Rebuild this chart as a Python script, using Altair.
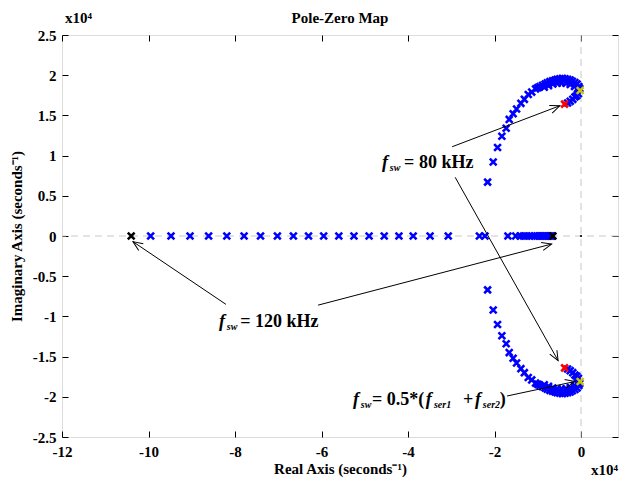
import math
import altair as alt
import pandas as pd

# ---------------- data (real / imaginary parts in units of 1e4 s^-1) ----------------
real_blue_x = [-9.95, -9.48, -9.04, -8.61, -8.19, -7.79, -7.41, -7.02, -6.65, -6.30,
               -5.95, -5.60, -5.25, -4.90, -4.55, -4.21, -3.88, -3.49, -3.07, -2.35,
               -2.22, -1.69, -1.51, -1.41, -1.33, -1.26, -1.19, -1.13, -1.07, -1.02,
               -0.97, -0.92, -0.88, -0.84, -0.80, -0.76, -0.73, -0.70, -0.67]
real_black_x = [-10.40, -0.65]

loop_x = [-2.16, -2.03, -1.93, -1.83, -1.73, -1.66, -1.57, -1.49, -1.39, -1.31,
          -1.22, -1.14, -1.05, -1.00, -0.95, -0.89, -0.83, -0.78, -0.72, -0.66,
          -0.60, -0.55, -0.49, -0.43, -0.37, -0.31, -0.25, -0.20, -0.14, -0.09,
          -0.05, -0.03, -0.06, -0.10, -0.14, -0.19, -0.25, -0.31,
          -0.85, -0.75, -0.65, -0.55, -0.45, -0.35, -0.25, -0.15, -0.08]
loop_y = [0.67, 0.92, 1.10, 1.24, 1.34, 1.45, 1.52, 1.58, 1.65, 1.70,
          1.76, 1.79, 1.83, 1.845, 1.86, 1.875, 1.89, 1.905, 1.92, 1.93,
          1.94, 1.95, 1.955, 1.96, 1.955, 1.95, 1.94, 1.925, 1.91, 1.89,
          1.86, 1.835, 1.77, 1.745, 1.73, 1.70, 1.675, 1.655,
          1.85, 1.87, 1.89, 1.90, 1.905, 1.90, 1.885, 1.86, 1.83]

red_pole = (-0.38, 1.64)      # f_sw = 80 kHz
yellow_pole = (-0.02, 1.81)   # f_sw = 0.5*(fser1+fser2)
zero_origin = (0.0, 0.0)

# arrows: tail -> tip
arrow_x1 = [-2.98, -2.91, -8.21, -6.08, -1.71]
arrow_y1 = [1.11, 0.73, -0.85, -0.86, -1.99]
arrow_x2 = [-0.49, -0.53, -10.36, -0.68, -0.14]
arrow_y2 = [1.62, -1.55, -0.07, -0.10, -1.81]

# annotation text pieces
main_txt = ["= 80 kHz", "= 120 kHz", "= 0.5*(", "+", ")"]
main_x = [-4.09, -7.88, -4.83, -2.73, -1.88]
main_y = [0.846, -1.132, -2.102, -2.102, -2.102]
f_x = [-4.60, -8.37, -5.27, -3.59, -2.45]
f_y = [0.846, -1.132, -2.102, -2.102, -2.102]
sub_txt = ["sw", "sw", "sw", "ser1", "ser2"]
sub_x = [-4.42, -8.19, -5.09, -3.40, -2.27]
sub_y = [0.806, -1.172, -2.142, -2.142, -2.142]

# ---------------- layout ----------------
W, H = 556, 402
XDOM = [-12, 0.855]
YDOM = [-2.5, 2.5]
PX = W / (XDOM[1] - XDOM[0])
PY = H / (YDOM[1] - YDOM[0])
FONT = "Liberation Serif"

xs = alt.Scale(domain=XDOM, nice=False, zero=False)
ys = alt.Scale(domain=YDOM, nice=False, zero=False)

common_axis = dict(grid=False, domain=False, ticks=True, tickSize=6, offset=-6,
                   tickColor="black", tickWidth=1, labelFlush=False)

x_bottom = alt.Axis(values=list(range(-12, 1, 2)), labelExpr="'' + datum.value",
                    title="Real Axis (seconds⁻¹)", labelFont=FONT, labelFontWeight="bold",
                    labelFontSize=15, labelColor="black", labelPadding=7,
                    titleFont=FONT, titleFontWeight="bold", titleFontSize=15,
                    titleColor="black", titlePadding=2, **common_axis)
y_left = alt.Axis(values=[-2.5, -2, -1.5, -1, -0.5, 0, 0.5, 1, 1.5, 2, 2.5],
                  labelExpr="'' + datum.value", title="Imaginary Axis (seconds⁻¹)",
                  labelFont=FONT, labelFontWeight="bold", labelFontSize=15,
                  labelColor="black", labelPadding=6,
                  titleFont=FONT, titleFontWeight="bold", titleFontSize=15,
                  titleColor="black", titlePadding=8, **common_axis)
x_top = alt.Axis(orient="top", values=list(range(-12, 1, 2)), labels=False, title=None,
                 **common_axis)
y_right = alt.Axis(orient="right", values=[-2.5, -2, -1.5, -1, -0.5, 0, 0.5, 1, 1.5, 2, 2.5],
                   labels=False, title=None, **common_axis)

XPATH = "M-1,-1L1,1M-1,1L1,-1"
HEAD = "M-1,-0.42L0,0L-1,0.42"

# ---------------- tables ----------------
blue = pd.DataFrame({
    "x": real_blue_x + loop_x + loop_x,
    "y": [0.0] * len(real_blue_x) + loop_y + [-v for v in loop_y],
})
special = pd.DataFrame({
    "x": real_black_x + [red_pole[0], red_pole[0], yellow_pole[0], yellow_pole[0]],
    "y": [0.0, 0.0, red_pole[1], -red_pole[1], yellow_pole[1], -yellow_pole[1]],
    "c": ["#000000", "#000000", "#ff0000", "#ff0000", "#c8c800", "#c8c800"],
})
origin = pd.DataFrame({"x": [zero_origin[0]], "y": [zero_origin[1]]})
arrows = pd.DataFrame({"x1": arrow_x1, "y1": arrow_y1, "x2": arrow_x2, "y2": arrow_y2})
arrows["ang"] = [
    math.degrees(math.atan2(-(b2 - b1) * PY, (a2 - a1) * PX)) % 360
    for a1, b1, a2, b2 in zip(arrow_x1, arrow_y1, arrow_x2, arrow_y2)
]
main_df = pd.DataFrame({"x": main_x, "y": main_y, "t": main_txt})
f_df = pd.DataFrame({"x": f_x, "y": f_y, "t": ["f"] * len(f_x)})
sub_df = pd.DataFrame({"x": sub_x, "y": sub_y, "t": sub_txt})

# ---------------- layers ----------------
vgrid = alt.Chart(pd.DataFrame({"v": [0]})).mark_rule(
    color="#c8c8c8", strokeDash=[7, 5], strokeWidth=1
).encode(x=alt.X("v:Q", scale=xs, axis=x_top))
hgrid = alt.Chart(pd.DataFrame({"v": [0]})).mark_rule(
    color="#c8c8c8", strokeDash=[7, 5], strokeWidth=1
).encode(y=alt.Y("v:Q", scale=ys, axis=y_right))

pts_blue = alt.Chart(blue).mark_point(
    shape=XPATH, size=46, filled=False, strokeWidth=2.6, color="#0000ff", opacity=1
).encode(x=alt.X("x:Q", scale=xs, axis=x_bottom), y=alt.Y("y:Q", scale=ys, axis=y_left))

pts_special = alt.Chart(special).mark_point(
    shape=XPATH, size=46, filled=False, strokeWidth=2.6, opacity=1
).encode(x=alt.X("x:Q", scale=xs, axis=None), y=alt.Y("y:Q", scale=ys, axis=None),
         stroke=alt.Stroke("c:N", scale=None))

pts_origin = alt.Chart(origin).mark_point(
    shape="circle", size=5, filled=True, color="black", opacity=1
).encode(x=alt.X("x:Q", scale=xs, axis=None), y=alt.Y("y:Q", scale=ys, axis=None))

arrow_lines = alt.Chart(arrows).mark_rule(color="black", strokeWidth=1).encode(
    x=alt.X("x1:Q", scale=xs, axis=None), y=alt.Y("y1:Q", scale=ys, axis=None),
    x2="x2:Q", y2="y2:Q")
arrow_heads = alt.Chart(arrows).mark_point(
    shape=HEAD, size=380, filled=False, color="black", strokeWidth=1, opacity=1
).encode(x=alt.X("x2:Q", scale=xs, axis=None), y=alt.Y("y2:Q", scale=ys, axis=None),
         angle=alt.Angle("ang:Q", scale=None))

txt_main = alt.Chart(main_df).mark_text(
    font=FONT, fontSize=18, fontWeight="bold", align="left", baseline="alphabetic", color="black"
).encode(x=alt.X("x:Q", scale=xs, axis=None), y=alt.Y("y:Q", scale=ys, axis=None), text="t:N")
txt_f = alt.Chart(f_df).mark_text(
    font=FONT, fontSize=18, fontWeight="bold", fontStyle="italic", align="left",
    baseline="alphabetic", color="black"
).encode(x=alt.X("x:Q", scale=xs, axis=None), y=alt.Y("y:Q", scale=ys, axis=None), text="t:N")
txt_sub = alt.Chart(sub_df).mark_text(
    font=FONT, fontSize=10, fontWeight="bold", fontStyle="italic", align="left",
    baseline="alphabetic", color="black"
).encode(x=alt.X("x:Q", scale=xs, axis=None), y=alt.Y("y:Q", scale=ys, axis=None), text="t:N")

labels = pd.DataFrame({"t": ["Pole-Zero Map"]})
title_txt = alt.Chart(labels).mark_text(
    font=FONT, fontSize=15, fontWeight="bold", align="center", baseline="alphabetic", color="black"
).encode(x=alt.value(W / 2), y=alt.value(-12), text="t:N")
exp_top = alt.Chart(pd.DataFrame({"t": ["x10⁴"]})).mark_text(
    font=FONT, fontSize=15, fontWeight="bold", align="left", baseline="alphabetic", color="black"
).encode(x=alt.value(3), y=alt.value(-12), text="t:N")
exp_bot = alt.Chart(pd.DataFrame({"t": ["x10⁴"]})).mark_text(
    font=FONT, fontSize=15, fontWeight="bold", align="right", baseline="alphabetic", color="black"
).encode(x=alt.value(W), y=alt.value(H + 38), text="t:N")

chart = alt.layer(
    vgrid, hgrid, pts_blue, pts_special, pts_origin, arrow_lines, arrow_heads,
    txt_main, txt_f, txt_sub, title_txt, exp_top, exp_bot
).resolve_axis(x="independent", y="independent").properties(
    width=W, height=H,
    padding={"left": 54, "top": 27, "right": 1, "bottom": 42},
    autosize=alt.AutoSizeParams(type="none"),
).configure_view(stroke="black", strokeWidth=1).configure(background="white")

chart.save("out.html", embed_options={"renderer": "svg", "actions": False})
